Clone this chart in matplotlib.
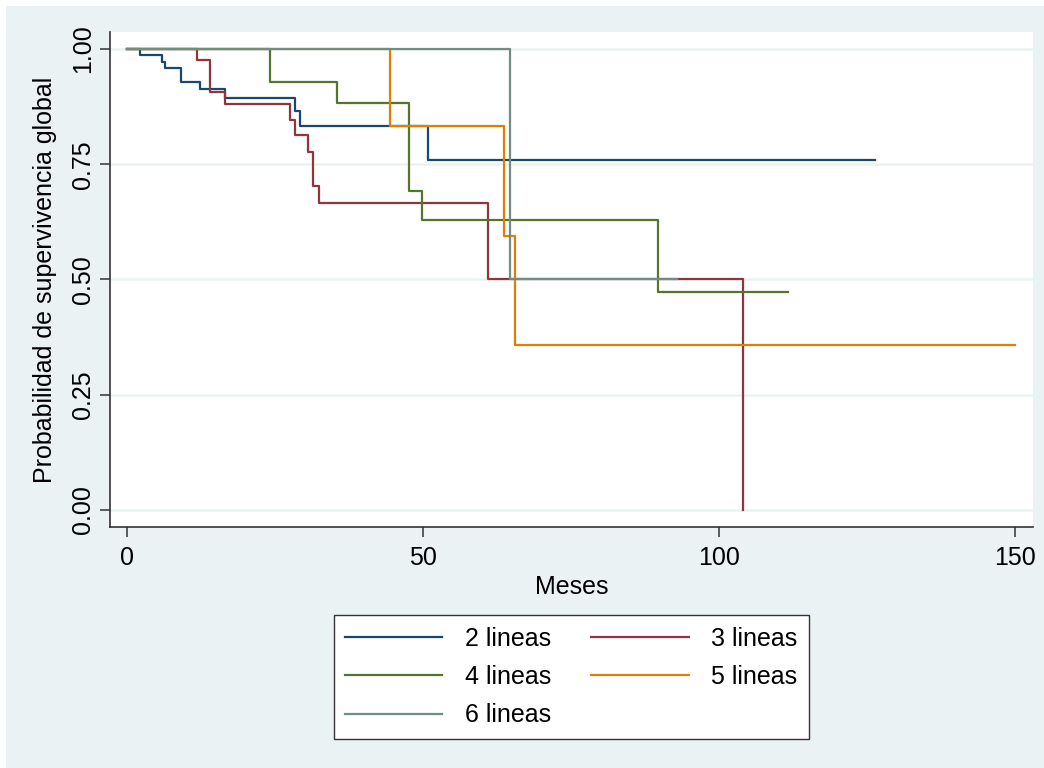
import matplotlib
matplotlib.use("Agg")
import matplotlib.pyplot as plt
from matplotlib.patches import Rectangle

plt.rcParams["font.family"] = ["Liberation Sans", "DejaVu Sans"]

# Kaplan-Meier steps (time in months, survival after the step)
t2 = [0, 2.2, 5.9, 6.4, 9.1, 12.3, 16.6, 28.4, 29.2, 50.8, 126.4]
s2 = [1.0, 0.987, 0.972, 0.959, 0.929, 0.913, 0.894, 0.866, 0.834, 0.759, 0.759]

t3 = [0, 11.9, 14.0, 16.6, 27.5, 28.4, 30.5, 31.4, 32.5, 61.0, 104.0]
s3 = [1.0, 0.976, 0.907, 0.881, 0.847, 0.813, 0.776, 0.703, 0.666, 0.500, 0.0]

t4 = [0, 24.2, 35.4, 47.6, 49.9, 89.6, 111.7]
s4 = [1.0, 0.928, 0.882, 0.692, 0.630, 0.472, 0.472]

t5 = [0, 44.4, 63.6, 65.5, 150.0]
s5 = [1.0, 0.833, 0.594, 0.358, 0.358]

t6 = [0, 64.6, 92.8]
s6 = [1.0, 0.500, 0.500]

labels = ["2 lineas", "3 lineas", "4 lineas", "5 lineas", "6 lineas"]
colors = ["#1a476f", "#90353b", "#55752f", "#e37e00", "#6e8e84"]

xticks = [0, 50, 100, 150]
yticks = [0.0, 0.25, 0.50, 0.75, 1.0]
ytick_labels = ["0.00", "0.25", "0.50", "0.75", "1.00"]

W, H = 1044, 768
BG = "#eaf2f3"
FS = 18

fig = plt.figure(figsize=(W / 100, H / 100), dpi=100, facecolor="white")
fig.patches.append(Rectangle((6 / W, 0), 1 - 6 / W, 1 - 6 / H,
                             transform=fig.transFigure, facecolor=BG,
                             edgecolor="none", zorder=-10))

ax = fig.add_axes([110 / W, 1 - 527 / H, (1033 - 110) / W, (527 - 32) / H])
ax.set_facecolor("white")

series = [(t2, s2), (t3, s3), (t4, s4), (t5, s5), (t6, s6)]
for (t, s), lab, c in zip(series, labels, colors):
    ax.step(t, s, where="post", color=c, lw=1.6, label=lab)

ax.set_xlim(-2.87, 153.0)
ax.set_ylim(-0.037, 1.037)
ax.set_xticks(xticks)
ax.set_yticks(yticks)
ax.set_yticklabels(ytick_labels, rotation=90, va="center")
ax.yaxis.grid(True, color=BG, lw=1.8)
ax.set_axisbelow(True)

for side in ["top", "right"]:
    ax.spines[side].set_visible(False)
for side in ["left", "bottom"]:
    ax.spines[side].set_color("#333333")
    ax.spines[side].set_linewidth(1.2)
ax.tick_params(direction="out", length=7, width=1.1, color="#333333",
               labelsize=FS)
ax.tick_params(axis="x", pad=7)
ax.tick_params(axis="y", pad=4)

ax.set_xlabel("Meses", fontsize=FS, labelpad=3)
ax.set_ylabel("Probabilidad de supervivencia global", fontsize=FS, labelpad=10)

# legend filled row by row, as in the original
handles, labs = ax.get_legend_handles_labels()
order = [0, 2, 4, 1, 3]
leg = fig.legend([handles[i] for i in order], [labs[i] for i in order],
                 loc="center", ncol=2,
                 bbox_to_anchor=(571 / W, 1 - 677 / H),
                 fontsize=FS, frameon=True, fancybox=False,
                 handlelength=3.9, handletextpad=0.9, columnspacing=1.6,
                 labelspacing=0.58, borderpad=0.45)
leg.get_frame().set_edgecolor("#333333")
leg.get_frame().set_linewidth(1.0)
leg.get_frame().set_facecolor("white")
leg.get_frame().set_alpha(1)

fig.savefig("out.png", dpi=100, facecolor=fig.get_facecolor())
